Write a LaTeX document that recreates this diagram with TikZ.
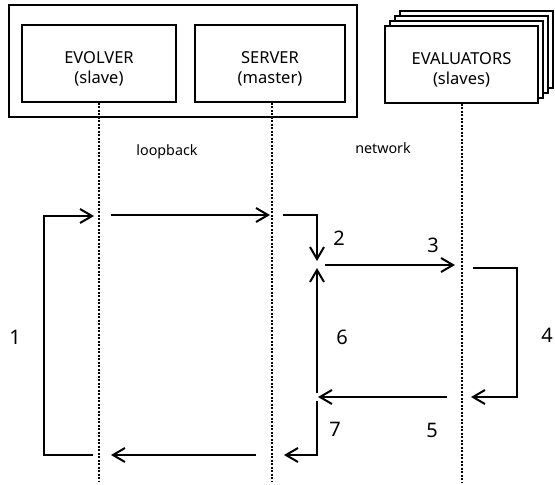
\documentclass[tikz,border=0pt]{standalone}
\usepackage{fontspec}
\setmainfont{Noto Sans}
\usetikzlibrary{arrows.meta}
\begin{document}
\begin{tikzpicture}[x=1pt,y=-1pt,
  box/.style={draw,line width=2pt,fill=white,minimum width=#1,minimum height=77pt,inner sep=0pt},
  boxtext/.style={align=center,inner sep=0pt,yshift=-6pt,font=\fontsize{16.5}{20}\selectfont},
  lifeline/.style={line width=2pt,dash pattern=on 2pt off 1.5pt},
  msg/.style={line width=2pt,-{Straight Barb[length=12pt,width=14pt,line width=2pt]}},
  num/.style={font=\fontsize{20}{20}\selectfont},
  chan/.style={font=\fontsize{14.3}{15}\selectfont}]
\useasboundingbox (0,0) rectangle (555,485);

% host holding evolver and server
\node[draw,line width=2pt,minimum width=348pt,minimum height=112pt,inner sep=0pt] (host) at (183,61) {};
\node[box=154pt] (evolver) at (99,63) {};
\node[boxtext] (evolverText) at (evolver.center) {EVOLVER\\(slave)};
\node[box=150pt] (server) at (270,63) {};
\node[boxtext] (serverText) at (server.center) {SERVER\\(master)};

% stack of evaluator boxes
\node[box=153pt] (ev3) at (476.5,49) {};
\node[box=153pt] (ev2) at (471.5,54) {};
\node[box=153pt] (ev1) at (466.5,59) {};
\node[box=153pt] (evaluators) at (461.5,64) {};
\node[boxtext] (evaluatorsText) at (evaluators.center) {EVALUATORS\\(slaves)};

% lifelines
\coordinate (evoEnd) at (99,482);
\coordinate (srvEnd) at (272,482);
\coordinate (evaEnd) at (462,482);
\draw[lifeline] (evolver.south -| evoEnd) -- (evoEnd);
\draw[lifeline] (server.south -| srvEnd) -- (srvEnd);
\draw[lifeline] (evaluators.south -| evaEnd) -- (evaEnd);

\node[chan] (loopback) at (167,152) {loopback};
\node[chan] (network) at (383,148) {network};

% message points
\coordinate (p1a) at (93,455);
\coordinate (p1b) at (44,455);
\coordinate (p1c) at (44,216);
\coordinate (p1d) at (94,216);
\coordinate (q1a) at (111,215);
\coordinate (q1b) at (270,215);
\coordinate (p2a) at (283,215);
\coordinate (p2b) at (317,215);
\coordinate (p2c) at (317,261);
\coordinate (p3a) at (325,265);
\coordinate (p3b) at (455,265);
\coordinate (p4a) at (473,268);
\coordinate (p4b) at (517,268);
\coordinate (p4c) at (517,397);
\coordinate (p4d) at (471,397);
\coordinate (p5a) at (447,397);
\coordinate (p5b) at (318,397);
\coordinate (p6a) at (317,393);
\coordinate (p6b) at (317,268);
\coordinate (p7a) at (317,401);
\coordinate (p7b) at (317,455);
\coordinate (p7c) at (284,455);
\coordinate (q8a) at (256,455);
\coordinate (q8b) at (111,455);

\draw[msg] (p1a) -- (p1b) -- (p1c) -- (p1d);
\draw[msg] (q1a) -- (q1b);
\draw[msg] (p2a) -- (p2b) -- (p2c);
\draw[msg] (p3a) -- (p3b);
\draw[msg] (p4a) -- (p4b) -- (p4c) -- (p4d);
\draw[msg] (p5a) -- (p5b);
\draw[msg] (p6a) -- (p6b);
\draw[msg] (p7a) -- (p7b) -- (p7c);
\draw[msg] (q8a) -- (q8b);

% step numbers
\node[num] (n1) at (15,337) {1};
\node[num] (n2) at (339,238) {2};
\node[num] (n3) at (433,245) {3};
\node[num] (n4) at (547,335) {4};
\node[num] (n5) at (432,430) {5};
\node[num] (n6) at (342,337) {6};
\node[num] (n7) at (335,429) {7};
\end{tikzpicture}
\end{document}
